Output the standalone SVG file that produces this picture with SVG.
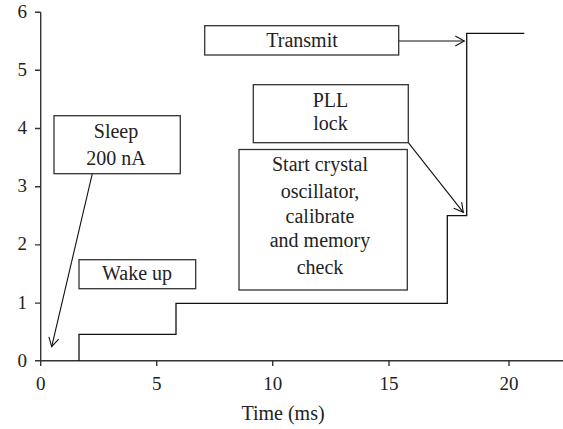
<svg xmlns="http://www.w3.org/2000/svg" width="563" height="429" viewBox="0 0 563 429">
<defs>
<style>
text{font-family:"Liberation Serif","DejaVu Serif",serif;font-size:20px;fill:#222;}
.lbl{text-anchor:middle;}
.num{text-anchor:middle;font-size:19px;}
.tick{text-anchor:end;font-size:19px;}
.ax{stroke:#333;stroke-width:1.4;fill:none;}
.box{fill:#fff;stroke:#333;stroke-width:1.3;}
.tr{stroke:#111;stroke-width:1.3;fill:none;}
.conn{stroke:#111;stroke-width:1.1;fill:none;marker-end:url(#ah);}
</style>
<marker id="ah" markerWidth="12" markerHeight="12" refX="10" refY="6" orient="auto" markerUnits="userSpaceOnUse">
<path d="M1,1 L10,6 L1,11" fill="none" stroke="#111" stroke-width="1.1"/>
</marker>
</defs>
<g id="axes">
<path class="ax" d="M40.7,12.3 V360.8 H563"/>
<path class="ax" d="M35,12.3 H40.7 M35,70.3 H40.7 M35,128.5 H40.7 M35,186.7 H40.7 M35,244.9 H40.7 M35,303.1 H40.7 M35,360.8 H40.7"/>
<path class="ax" d="M40.7,360.8 V366 M156.7,360.8 V366 M272.7,360.8 V366 M389,360.8 V366 M509,360.8 V366"/>
<text class="tick" x="27" y="18">6</text>
<text class="tick" x="27" y="76">5</text>
<text class="tick" x="27" y="134">4</text>
<text class="tick" x="27" y="192">3</text>
<text class="tick" x="27" y="250">2</text>
<text class="tick" x="27" y="308.5">1</text>
<text class="tick" x="27" y="366.5">0</text>
<text class="num" x="40.7" y="390">0</text>
<text class="num" x="156.7" y="390">5</text>
<text class="num" x="272.7" y="390">10</text>
<text class="num" x="389" y="390">15</text>
<text class="num" x="509" y="390">20</text>
<text class="lbl" x="283" y="420">Time (ms)</text>
</g>
<g id="trace">
<path class="tr" d="M79,360.8 V334.3 H176 V303.3 H447.3 V215.7 H466.7 V33.3 H524.3"/>
</g>
<g id="connectors">
<path class="conn" d="M92.3,173.7 L51.7,346.7"/>
<path class="conn" d="M398.7,41 L464.3,41"/>
<path class="conn" d="M408.3,142.7 L463.3,212.3"/>
</g>
<g id="sleep">
<rect class="box" x="54" y="115.7" width="126.3" height="58"/>
<text class="lbl" x="116" y="138">Sleep</text>
<text class="lbl" x="116" y="165">200 nA</text>
</g>
<g id="wakeup">
<rect class="box" x="79" y="259.7" width="116.7" height="29"/>
<text class="lbl" x="137" y="279.5">Wake up</text>
</g>
<g id="transmit">
<rect class="box" x="204.7" y="25.7" width="194" height="29.3"/>
<text class="lbl" x="302" y="47">Transmit</text>
</g>
<g id="pll">
<rect class="box" x="253.3" y="84.7" width="155" height="58"/>
<text class="lbl" x="330.5" y="106.5">PLL</text>
<text class="lbl" x="330.5" y="130">lock</text>
</g>
<g id="start">
<rect class="box" x="239" y="149.5" width="168.3" height="140.5"/>
<text class="lbl" x="320" y="170.5">Start crystal</text>
<text class="lbl" x="320" y="198">oscillator,</text>
<text class="lbl" x="320" y="223">calibrate</text>
<text class="lbl" x="320" y="247">and memory</text>
<text class="lbl" x="320" y="274">check</text>
</g>
</svg>
